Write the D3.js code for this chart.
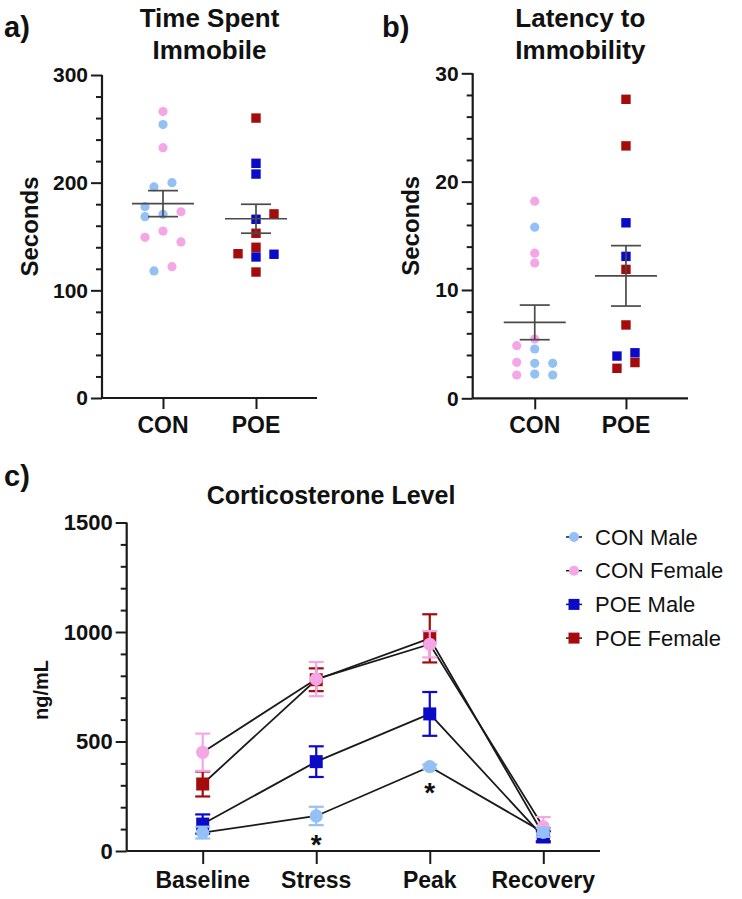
<!DOCTYPE html>
<html>
<head>
<meta charset="utf-8">
<script src="https://cdn.jsdelivr.net/npm/d3@7/dist/d3.min.js"></script>
<style>
  html, body { margin: 0; padding: 0; background: #fff; }
  svg { display: block; font-family: "Liberation Sans", Arial, sans-serif; }
</style>
</head>
<body>
<svg id="chart" width="742" height="899"></svg>
<script>
// ---------- DATA ----------
// Panel a: Time Spent Immobile (seconds)
const groups = ["CON", "POE"];
const immobileCON     = [266, 254, 232.5, 196, 200, 177.7, 168.4, 170.6, 173, 149.2, 155, 145, 118, 122];
const immobileCONSex  = ["F", "M", "F", "M", "M", "M", "M", "M", "F", "F", "F", "F", "M", "F"];
const immobileCONCol  = [0, 0, 0, -1, 1, -2, -2, 0, 2, -2, 0, 2, -1, 1];
const immobilePOE     = [260, 218, 208, 171, 166, 153, 134, 140, 131, 133.5, 117];
const immobilePOESex  = ["F", "M", "M", "F", "M", "F", "F", "F", "M", "M", "F"];
const immobilePOECol  = [0, 0, 0, 2, 0, 0, -2, 0, 0, 2, 0];

// Panel b: Latency to Immobility (seconds)
const latencyCON      = [18.2, 15.8, 13.4, 12.5, 4.86, 5.47, 4.55, 3.32, 3.23, 3.23, 2.15, 2.24, 2.15];
const latencyCONSex   = ["F", "M", "F", "F", "F", "F", "M", "F", "M", "M", "F", "M", "M"];
const latencyCONCol   = [0, 0, 0, 0, -2, 0, 0, -2, 0, 2, -2, 0, 2];
const latencyPOE      = [27.6, 23.3, 16.2, 13.1, 11.9, 6.77, 3.9, 4.2, 3.3, 2.77];
const latencyPOESex   = ["F", "F", "M", "M", "F", "F", "M", "M", "F", "F"];
const latencyPOECol   = [0, 0, 0, 0, 0, 0, -1, 1, 1, -1];

const immobileTicks = [0, 100, 200, 300];
const latencyTicks  = [0, 10, 20, 30];

// Panel c: Corticosterone Level (ng/mL), mean and SEM
const timepoints      = ["Baseline", "Stress", "Peak", "Recovery"];
const conMaleMean     = [84, 160, 385, 85];
const conMaleSEM      = [27, 42, 10, 20];
const conFemaleMean   = [451, 785, 944, 110];
const conFemaleSEM    = [85, 78, 60, 45];
const poeMaleMean     = [123, 408, 626, 65];
const poeMaleSEM      = [44, 70, 100, 25];
const poeFemaleMean   = [306, 782, 971, 75];
const poeFemaleSEM    = [57, 52, 110, 30];
const cortTicks       = [0, 500, 1000, 1500];
const significance    = [{ t: "Stress", v: 55 }, { t: "Peak", v: 292 }];
const seriesNames     = ["CON Male", "CON Female", "POE Male", "POE Female"];

// ---------- STYLE ----------
const C = {
  conM: "#93c1f5",
  conF: "#f4a6e6",
  poeM: "#0a0ac8",
  poeF: "#a50b0b",
  axis: "#1a1a1a",
  sem: "#4a4a4a"
};
const colorFor = (grp, sex) => grp === "CON" ? (sex === "M" ? C.conM : C.conF) : (sex === "M" ? C.poeM : C.poeF);

const svg = d3.select("#chart");

// ---------- helpers ----------
function drawYAxis(g, y, x0, ticks, minorStep, majorLen, minorLen, fontSize) {
  const [d0, d1] = y.domain();
  const minor = d3.range(d0, d1 + 1e-9, minorStep).filter(v => !ticks.some(t => Math.abs(t - v) < 1e-9));
  g.append("g").attr("transform", `translate(${x0},0)`)
    .call(d3.axisLeft(y).tickValues(minor).tickSize(minorLen).tickFormat(""))
    .call(a => a.select(".domain").remove())
    .call(a => a.selectAll("line").attr("stroke", C.axis).attr("stroke-width", 2));
  g.append("g").attr("transform", `translate(${x0},0)`)
    .call(d3.axisLeft(y).tickValues(ticks).tickSize(majorLen).tickPadding(3).tickFormat(d3.format("d")))
    .call(a => a.select(".domain").remove())
    .call(a => a.selectAll("line").attr("stroke", C.axis).attr("stroke-width", 2))
    .call(a => a.selectAll("text").attr("fill", "#111").attr("font-size", fontSize)
      .attr("font-weight", "bold").attr("font-family", "Liberation Sans, Arial, sans-serif"));
  g.append("line").attr("x1", x0).attr("x2", x0)
    .attr("y1", y.range()[0]).attr("y2", y.range()[1])
    .attr("stroke", C.axis).attr("stroke-width", 2.2);
}

function drawXAxis(g, x, y0, xStart, xEnd, tickLen, fontSize, labelY) {
  g.append("g").attr("transform", `translate(0,${y0})`)
    .call(d3.axisBottom(x).tickSize(tickLen).tickFormat(""))
    .call(a => a.select(".domain").remove())
    .call(a => a.selectAll("line").attr("stroke", C.axis).attr("stroke-width", 2));
  g.append("line").attr("x1", xStart).attr("x2", xEnd).attr("y1", y0).attr("y2", y0)
    .attr("stroke", C.axis).attr("stroke-width", 2.2);
  g.selectAll(".xl").data(x.domain()).enter().append("text")
    .attr("x", d => x(d)).attr("y", labelY)
    .attr("text-anchor", "middle").attr("font-size", fontSize).attr("font-weight", "bold")
    .attr("fill", "#111").text(d => d);
}

function scatterPanel(opts) {
  const g = svg.append("g");
  const y = d3.scaleLinear().domain(opts.domain).range([opts.y0, opts.y1]);
  const x = d3.scalePoint().domain(groups).range([opts.x0, opts.x1]).padding(opts.pad);

  // titles
  g.append("text").attr("x", opts.panelLabelX).attr("y", 37).attr("font-size", 29)
    .attr("font-weight", "bold").attr("fill", "#111").text(opts.panelLabel);
  opts.title.forEach((t, i) => g.append("text").attr("x", (opts.x0 + opts.x1) / 2).attr("y", 27 + i * 32)
    .attr("text-anchor", "middle").attr("font-size", 26).attr("font-weight", "bold")
    .attr("fill", "#111").text(t));
  g.append("text").attr("transform", `translate(${opts.ylabX},${(opts.y0 + opts.y1) / 2 - 10}) rotate(-90)`)
    .attr("text-anchor", "middle").attr("font-size", 24).attr("font-weight", "bold")
    .attr("fill", "#111").text("Seconds");

  drawYAxis(g, y, opts.x0, opts.ticks, opts.minor, 11, 6, 21);
  drawXAxis(g, x, opts.y0, opts.x0, opts.x1, 11, 23, 433);

  const unit = 9;
  const sets = [
    { grp: "CON", vals: opts.con, sex: opts.conSex, col: opts.conCol },
    { grp: "POE", vals: opts.poe, sex: opts.poeSex, col: opts.poeCol }
  ];
  sets.forEach(s => {
    const pts = s.vals.map((v, i) => ({ v, sex: s.sex[i], col: s.col[i] }));
    const cx = x(s.grp);
    if (s.grp === "CON") {
      g.selectAll(null).data(pts).enter().append("circle")
        .attr("cx", d => cx + d.col * unit).attr("cy", d => y(d.v)).attr("r", 4.6)
        .attr("fill", d => colorFor(s.grp, d.sex));
    } else {
      g.selectAll(null).data(pts).enter().append("rect")
        .attr("x", d => cx + d.col * unit - 4.7).attr("y", d => y(d.v) - 4.7)
        .attr("width", 9.4).attr("height", 9.4)
        .attr("fill", d => colorFor(s.grp, d.sex));
    }
    const m = d3.mean(s.vals);
    const sem = d3.deviation(s.vals) / Math.sqrt(s.vals.length);
    const sg = g.append("g").attr("stroke", C.sem).attr("stroke-width", 1.7);
    sg.append("line").attr("x1", cx - 31).attr("x2", cx + 31).attr("y1", y(m)).attr("y2", y(m));
    sg.append("line").attr("x1", cx).attr("x2", cx).attr("y1", y(m + sem)).attr("y2", y(m - sem));
    sg.append("line").attr("x1", cx - 15).attr("x2", cx + 15).attr("y1", y(m + sem)).attr("y2", y(m + sem));
    sg.append("line").attr("x1", cx - 15).attr("x2", cx + 15).attr("y1", y(m - sem)).attr("y2", y(m - sem));
  });
}

scatterPanel({
  panelLabel: "a)", panelLabelX: 4, title: ["Time Spent", "Immobile"], ylabX: 38,
  domain: [0, 300], ticks: immobileTicks, minor: 20,
  x0: 102, x1: 317, y0: 398, y1: 75, pad: 0.656,
  con: immobileCON, conSex: immobileCONSex, conCol: immobileCONCol,
  poe: immobilePOE, poeSex: immobilePOESex, poeCol: immobilePOECol
});
scatterPanel({
  panelLabel: "b)", panelLabelX: 382, title: ["Latency to", "Immobility"], ylabX: 419,
  domain: [0, 30], ticks: latencyTicks, minor: 2,
  x0: 472.7, x1: 688, y0: 398.3, y1: 73.3, pad: 0.68,
  con: latencyCON, conSex: latencyCONSex, conCol: latencyCONCol,
  poe: latencyPOE, poeSex: latencyPOESex, poeCol: latencyPOECol
});

// ---------- Panel c ----------
(function () {
  const g = svg.append("g");
  const y = d3.scaleLinear().domain([0, 1500]).range([851, 522.5]);
  const x = d3.scalePoint().domain(timepoints).range([202.7, 543.3]);

  g.append("text").attr("x", 4).attr("y", 486).attr("font-size", 29)
    .attr("font-weight", "bold").attr("fill", "#111").text("c)");
  g.append("text").attr("x", 331).attr("y", 504).attr("text-anchor", "middle")
    .attr("font-size", 25).attr("font-weight", "bold").attr("fill", "#111").text("Corticosterone Level");
  g.append("text").attr("transform", `translate(48,${690}) rotate(-90)`)
    .attr("text-anchor", "middle").attr("font-size", 20).attr("font-weight", "bold")
    .attr("fill", "#111").text("ng/mL");

  drawYAxis(g, y, 126.7, cortTicks, 100, 11, 6, 22);
  drawXAxis(g, x, 851, 126.7, 600, 13, 23, 888);

  const series = [
    { name: seriesNames[3], mean: poeFemaleMean, sem: poeFemaleSEM, color: C.poeF, shape: "square" },
    { name: seriesNames[2], mean: poeMaleMean, sem: poeMaleSEM, color: C.poeM, shape: "square" },
    { name: seriesNames[1], mean: conFemaleMean, sem: conFemaleSEM, color: C.conF, shape: "circle" },
    { name: seriesNames[0], mean: conMaleMean, sem: conMaleSEM, color: C.conM, shape: "circle" }
  ];
  const line = d3.line().x((d, i) => x(timepoints[i])).y(d => y(d));
  series.forEach(s => {
    g.append("path").attr("d", line(s.mean)).attr("fill", "none")
      .attr("stroke", "#1a1a1a").attr("stroke-width", 1.8);
  });
  series.forEach(s => {
    const eg = g.append("g").attr("stroke", s.color).attr("stroke-width", 2.2);
    s.mean.forEach((m, i) => {
      const cx = x(timepoints[i]);
      eg.append("line").attr("x1", cx).attr("x2", cx).attr("y1", y(m + s.sem[i])).attr("y2", y(m - s.sem[i]));
      eg.append("line").attr("x1", cx - 7.5).attr("x2", cx + 7.5).attr("y1", y(m + s.sem[i])).attr("y2", y(m + s.sem[i]));
      eg.append("line").attr("x1", cx - 7.5).attr("x2", cx + 7.5).attr("y1", y(m - s.sem[i])).attr("y2", y(m - s.sem[i]));
    });
    s.mean.forEach((m, i) => {
      const cx = x(timepoints[i]);
      if (s.shape === "circle") {
        g.append("circle").attr("cx", cx).attr("cy", y(m)).attr("r", 6.6).attr("fill", s.color);
      } else {
        g.append("rect").attr("x", cx - 6.5).attr("y", y(m) - 6.5).attr("width", 13).attr("height", 13)
          .attr("fill", s.color);
      }
    });
  });

  // significance asterisks
  g.selectAll(".sig").data(significance).enter().append("text")
    .attr("x", d => x(d.t)).attr("y", d => y(d.v) + 15)
    .attr("text-anchor", "middle").attr("font-size", 28).attr("font-weight", "bold")
    .attr("fill", "#111").text("*");

  // legend
  const legend = [
    { name: seriesNames[0], color: C.conM, shape: "circle" },
    { name: seriesNames[1], color: C.conF, shape: "circle" },
    { name: seriesNames[2], color: C.poeM, shape: "square" },
    { name: seriesNames[3], color: C.poeF, shape: "square" }
  ];
  const lg = g.append("g");
  legend.forEach((d, i) => {
    const yy = 537 + i * 33.7;
    lg.append("line").attr("x1", 566).attr("x2", 582).attr("y1", yy).attr("y2", yy)
      .attr("stroke", "#1a1a1a").attr("stroke-width", 1.5);
    if (d.shape === "circle") {
      lg.append("circle").attr("cx", 574).attr("cy", yy).attr("r", 5).attr("fill", d.color);
    } else {
      lg.append("rect").attr("x", 568.5).attr("y", yy - 5.5).attr("width", 11).attr("height", 11).attr("fill", d.color);
    }
    lg.append("text").attr("x", 595).attr("y", yy).attr("dy", "0.35em")
      .attr("font-size", 22).attr("fill", "#111").text(d.name);
  });
})();
</script>
</body>
</html>
